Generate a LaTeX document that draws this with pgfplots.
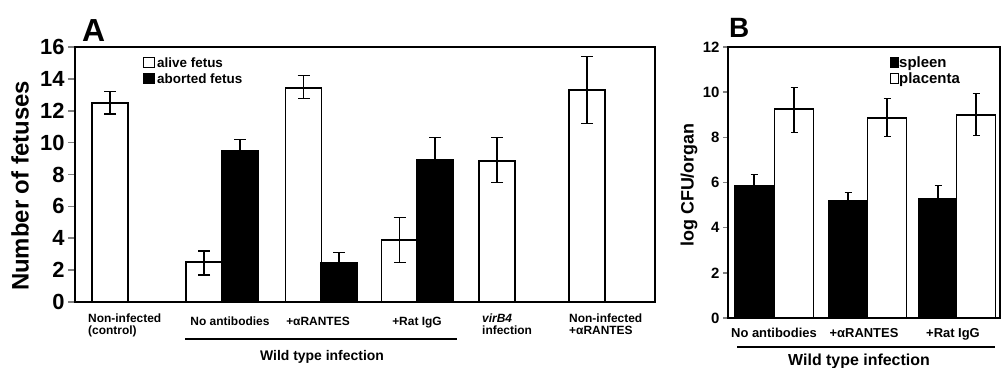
\documentclass[border=0pt]{standalone}
\usepackage{pgfplots}
\pgfplotsset{compat=1.18}
\usepackage{fontspec}
\setmainfont{Liberation Sans}
\newcommand\fs[1]{\fontsize{#1}{#1}\selectfont\bfseries}
\begin{document}
\begin{tikzpicture}[x=1bp,y=1bp]
\useasboundingbox (0,0) rectangle (1001,367);
% ---------------- Panel A ----------------
\begin{axis}[
  at={(75bp,65bp)}, anchor=south west,
  scale only axis, width=580bp, height=255bp,
  xmin=75, xmax=655, ymin=0, ymax=16,
  ytick={0,2,...,16}, xtick=\empty, ytick pos=left,
  axis line style={line width=2.5bp},
  tick align=outside, major tick length=7bp,
  ytick style={line width=1.6bp},
  yticklabel style={font=\fs{22}},
  /pgf/number format/assume math mode=true,
  clip=false,
]
\addplot[ybar, bar width=36, bar shift=0pt, fill=white, draw=black, line width=1.8bp,
  error bars/.cd, y dir=both, y explicit,
  error bar style={line width=1.3bp},
  error mark options={rotate=90, line width=1.3bp, mark size=6bp}]
  coordinates {
   (110,12.5) += (0,0.7) -= (0,0.7)
   (204,2.5) += (0,0.7) -= (0,0.8)
   (303.5,13.45) += (0,0.75) -= (0,0.7)
   (399.5,3.9) += (0,1.4) -= (0,1.4)
   (497,8.85) += (0,1.45) -= (0,1.35)
   (587,13.3) += (0,2.1) -= (0,2.1)
  };
\addplot[ybar, bar width=36, bar shift=0pt, fill=black, draw=black, line width=1.8bp,
  error bars/.cd, y dir=plus, y explicit,
  error bar style={line width=1.3bp},
  error mark options={rotate=90, line width=1.3bp, mark size=6bp}]
  coordinates {
   (240,9.5) += (0,0.7)
   (339,2.45) += (0,0.65)
   (435,8.9) += (0,1.4)
  };
\end{axis}
\node[font=\fs{24}, rotate=90] at (20,181) {Number of fetuses};
\node[font=\fs{32}, anchor=base west, inner sep=0] at (82,326) {A};
% legend A
\draw[line width=1bp, fill=white] (143,300) rectangle (154,310);
\draw[line width=1bp, fill=black] (143,284) rectangle (154,294);
\node[font=\fs{13.5}, anchor=base west, inner sep=0] at (157,300) {alive fetus};
\node[font=\fs{13.5}, anchor=base west, inner sep=0] at (157,284) {aborted fetus};
% x labels A
\node[font=\fs{12}, anchor=north west, align=left, inner sep=0] at (88,53) {Non-infected\\(control)};
\node[font=\fs{12}, anchor=base, inner sep=0] at (230,42) {No antibodies};
\node[font=\fs{12}, anchor=base, inner sep=0] at (318,42) {+αRANTES};
\node[font=\fs{12}, anchor=base, inner sep=0] at (417,42) {+Rat IgG};
\node[font=\fs{12}, anchor=north west, align=left, inner sep=0] at (482,53) {\textit{virB4}\\infection};
\node[font=\fs{12}, anchor=north west, align=left, inner sep=0] at (569,53) {Non-infected\\+αRANTES};
\draw[line width=1.5bp] (185,28) -- (457,28);
\node[font=\fs{14}, anchor=base, inner sep=0] at (322,7) {Wild type infection};
% ---------------- Panel B ----------------
\begin{axis}[
  at={(728bp,49bp)}, anchor=south west,
  scale only axis, width=272bp, height=271bp,
  xmin=728, xmax=1000, ymin=0, ymax=12,
  ytick={0,2,...,12}, xtick=\empty, ytick pos=left,
  axis line style={line width=2.2bp},
  tick align=outside, major tick length=5bp,
  ytick style={line width=1.4bp},
  yticklabel style={font=\fs{15}},
  /pgf/number format/assume math mode=true,
  clip=false,
]
\addplot[ybar, bar width=39, bar shift=0pt, fill=black, draw=black, line width=1.6bp,
  error bars/.cd, y dir=plus, y explicit,
  error bar style={line width=1.1bp},
  error mark options={rotate=90, line width=1.1bp, mark size=3.5bp}]
  coordinates {
   (754,5.85) += (0,0.5)
   (848,5.2) += (0,0.35)
   (938,5.3) += (0,0.55)
  };
\addplot[ybar, bar width=39, bar shift=0pt, fill=white, draw=black, line width=1.6bp,
  error bars/.cd, y dir=both, y explicit,
  error bar style={line width=1.1bp},
  error mark options={rotate=90, line width=1.1bp, mark size=3.5bp}]
  coordinates {
   (794,9.25) += (0,0.95) -= (0,1.05)
   (887,8.85) += (0,0.85) -= (0,0.8)
   (976,9.0) += (0,0.95) -= (0,0.9)
  };
\end{axis}
\node[font=\fs{18}, rotate=90] at (689,182) {log CFU/organ};
\node[font=\fs{28}, anchor=base west, inner sep=0] at (729,330) {B};
% legend B
\draw[line width=1bp, fill=black] (890,300) rectangle (898,310);
\draw[line width=1bp, fill=white] (890,284) rectangle (898,294);
\node[font=\fs{15}, anchor=base west, inner sep=0] at (899,300) {spleen};
\node[font=\fs{15}, anchor=base west, inner sep=0] at (899,284) {placenta};
% x labels B
\node[font=\fs{13}, anchor=base, inner sep=0] at (774,30) {No antibodies};
\node[font=\fs{13}, anchor=base, inner sep=0] at (864,30) {+αRANTES};
\node[font=\fs{13}, anchor=base, inner sep=0] at (953,30) {+Rat IgG};
\draw[line width=1.5bp] (737,20) -- (995,20);
\node[font=\fs{16}, anchor=base, inner sep=0] at (859,2) {Wild type infection};
\end{tikzpicture}
\end{document}
